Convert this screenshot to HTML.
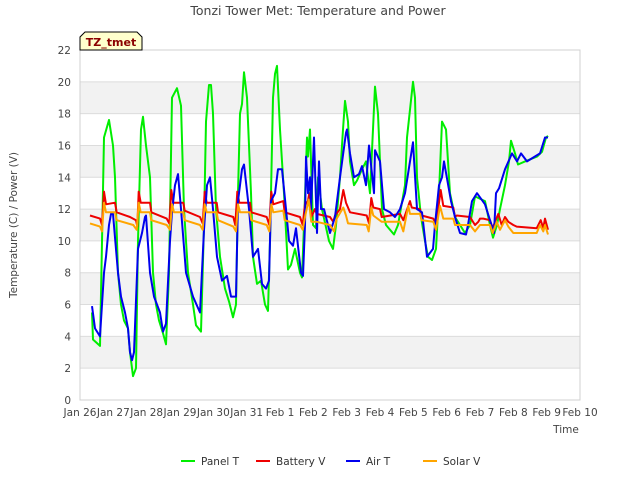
<!DOCTYPE html>
<html><head><meta charset="utf-8"><style>
body{margin:0;background:#fff;}
svg text{font-family:"DejaVu Sans","Liberation Sans",sans-serif;}
</style></head><body>
<svg id="chart" width="640" height="480" viewBox="0 0 640 480" xmlns="http://www.w3.org/2000/svg">
<rect width="640" height="480" fill="#fff"/>
<g id="bands"></g><g id="grid"></g><g id="series"></g><g id="axes"></g>
<text x="318" y="15" text-anchor="middle" font-size="12.5" fill="#444">Tonzi Tower Met: Temperature and Power</text>
<text x="17" y="225" text-anchor="middle" font-size="10.5" fill="#444" transform="rotate(-90 17 225)">Temperature (C) / Power (V)</text>
<text x="566" y="433" text-anchor="middle" font-size="10.5" fill="#444">Time</text>
<g>
<path d="M80,50 L80,37 L85,32 L137,32 L142,37 L142,50 Z" fill="#ffffcc" stroke="#000" stroke-width="1"/>
<text x="111" y="46" text-anchor="middle" font-size="11" font-weight="bold" fill="#8b0000">TZ_tmet</text>
</g>
<g id="legend"></g>
</svg>
<script>
const yTicks=[0,2,4,6,8,10,12,14,16,18,20,22];
const xTickLabels=["Jan 26","Jan 27","Jan 28","Jan 29","Jan 30","Jan 31","Feb 1","Feb 2","Feb 3","Feb 4","Feb 5","Feb 6","Feb 7","Feb 8","Feb 9","Feb 10"];
const seriesNames=["Panel T","Battery V","Air T","Solar V"];
const seriesColors=["#00ee00","#ee0000","#0000ee","#ffa500"];
const panelT_t=[.36,.39,.6,.72,.87,.99,1.05,1.14,1.23,1.32,1.44,1.5,1.59,1.68,1.74,1.83,1.89,1.98,2.1,2.19,2.28,2.37,2.49,2.58,2.67,2.76,2.91,3.03,3.12,3.24,3.39,3.48,3.63,3.72,3.78,3.87,3.93,3.99,4.08,4.2,4.35,4.47,4.59,4.68,4.74,4.8,4.86,4.92,5.01,5.13,5.19,5.31,5.43,5.55,5.64,5.7,5.79,5.85,5.91,6.0,6.12,6.24,6.33,6.45,6.6,6.66,6.72,6.81,6.84,6.9,6.99,7.08,7.14,7.26,7.47,7.59,7.68,7.8,7.89,7.95,8.04,8.1,8.22,8.31,8.46,8.58,8.7,8.85,8.94,9.06,9.18,9.42,9.54,9.75,9.81,9.99,10.05,10.11,10.23,10.35,10.44,10.56,10.68,10.77,10.86,10.98,11.1,11.25,11.4,11.55,11.7,11.85,12.15,12.3,12.39,12.51,12.6,12.75,12.87,12.93,13.05,13.14,13.35,13.71,13.86,13.98,14.04];
const panelT_v=[5.5,3.8,3.4,16.5,17.6,16,14,8,6,5,4.5,3,1.5,2,10,17,17.8,16,14,8,6,5,4.2,3.5,8,19,19.6,18.5,12,8,6,4.7,4.3,11,17.5,19.8,19.8,18,12,9,7,6.2,5.2,6,13,18,18.6,20.6,19,13,9,7.3,7.5,6,5.6,10,19,20.5,21,17,13,8.2,8.5,9.5,8,7.7,11,16.5,15.3,17,11,10.8,14,12,10,9.5,11,14,17,18.8,17.5,15,13.5,13.8,14.5,15,13,19.7,18,12,11,10.4,11,13.5,16.5,20,19,14,11.5,10,9,8.8,9.5,13,17.5,17,13,11.5,11,10.5,11,12.8,12.5,11,10.2,11,12,13.5,15,16.3,15.5,14.8,15,15.3,15.6,16.5,16.6];
const airT_t=[.36,.45,.6,.72,.78,.87,.93,.99,1.14,1.23,1.35,1.44,1.5,1.56,1.62,1.74,1.86,1.95,1.98,2.1,2.22,2.4,2.49,2.58,2.7,2.76,2.85,2.94,3.03,3.18,3.39,3.6,3.72,3.81,3.9,3.99,4.11,4.26,4.41,4.53,4.68,4.74,4.86,4.92,5.07,5.19,5.34,5.46,5.58,5.67,5.73,5.85,5.94,6.06,6.18,6.27,6.39,6.48,6.63,6.69,6.75,6.78,6.84,6.9,6.93,7.02,7.11,7.17,7.23,7.32,7.5,7.65,7.8,7.98,8.01,8.1,8.22,8.37,8.46,8.58,8.67,8.82,8.85,9.0,9.12,9.3,9.45,9.6,9.75,9.99,10.11,10.26,10.41,10.59,10.65,10.77,10.86,10.92,11.13,11.25,11.4,11.58,11.64,11.76,11.91,12.15,12.42,12.48,12.57,12.75,12.96,13.11,13.23,13.41,13.8,13.95,14.04];
const airT_v=[5.9,4.5,4,8,9,11,11.7,11.7,8,6.5,5.5,4.5,3,2.5,3,9.5,10.5,11.5,11.6,8,6.5,5.5,4.3,4.8,10,11.8,13.5,14.2,12,8,6.5,5.5,10.7,13.5,14,12,9,7.5,7.8,6.5,6.5,12.5,14.5,14.8,12,9,9.5,7.3,7,7.5,12.5,13,14.5,14.5,12,10,9.7,10.8,8,7.8,11,15.3,13,14,12,16.5,10.5,15,12,12,10.5,11.5,14,16.8,17,15.5,14,14.2,14.7,13.5,16,13,15.7,15,12,11.8,11.5,12,13,16.2,12,11.8,9,9.5,11,13.5,14,15,12.5,11.5,10.5,10.4,11,12.5,13,12.3,10.5,13,13.3,14.5,15.5,15,15.5,15,15.5,16.5,16.5];
const batt_t=[.3,.6,.66,.72,.78,1.05,1.1,1.5,1.68,1.72,1.76,1.82,2.1,2.14,2.6,2.68,2.74,2.8,3.1,3.14,3.6,3.68,3.74,3.8,4.1,4.14,4.6,4.66,4.72,4.78,5.1,5.14,5.6,5.68,5.74,5.8,6.1,6.14,6.6,6.68,6.76,6.82,6.88,6.94,7.05,7.1,7.5,7.6,7.65,7.8,7.9,7.98,8.1,8.6,8.67,8.74,8.8,9.0,9.05,9.6,9.7,9.9,9.95,10.2,10.25,10.6,10.68,10.82,10.9,11.2,11.25,11.3,11.7,11.85,11.95,12.0,12.1,12.3,12.38,12.45,12.55,12.65,12.75,12.85,13.0,13.1,13.7,13.82,13.9,13.95,14.04];
const batt_v=[11.6,11.4,11.0,13.1,12.3,12.4,11.8,11.5,11.3,10.9,13.1,12.4,12.4,11.8,11.4,11.1,13.2,12.4,12.4,11.9,11.5,11.1,13.1,12.4,12.4,11.8,11.5,11.0,13.1,12.4,12.4,11.8,11.5,11.0,13.1,12.3,12.5,11.8,11.5,11.0,12.5,12.3,13,11.5,12,11.7,11.5,11.2,11.6,12,13.2,12.4,11.8,11.6,11.1,12.7,12.1,12,11.5,11.7,11.3,12.5,12.1,12,11.6,11.4,11.0,13.2,12.2,12.1,11.5,11.6,11.5,11.0,11.2,11.4,11.4,11.3,10.8,11.2,11.7,11.0,11.5,11.2,11.0,10.9,10.8,11.3,10.8,11.4,10.7];
const solar_t=[.3,.6,.66,.72,.78,1.05,1.1,1.6,1.7,1.76,1.82,2.1,2.14,2.6,2.7,2.76,2.82,3.1,3.14,3.6,3.68,3.74,3.8,4.1,4.14,4.6,4.68,4.74,4.8,5.1,5.14,5.6,5.68,5.74,5.8,6.1,6.14,6.6,6.68,6.76,6.86,6.94,7.1,7.5,7.62,7.7,7.9,7.98,8.04,8.6,8.66,8.74,8.8,9.05,9.6,9.7,9.85,9.9,10.2,10.25,10.6,10.68,10.8,10.9,11.2,11.25,11.7,11.85,12.0,12.3,12.38,12.5,12.6,12.75,12.85,13.0,13.7,13.8,13.9,13.95,14.04];
const solar_v=[11.1,10.9,10.6,12.4,11.8,11.8,11.3,11.0,10.7,12.4,11.8,11.8,11.3,11.0,10.7,12.3,11.8,11.8,11.3,11.0,10.7,12.3,11.8,11.8,11.3,10.9,10.6,12.3,11.8,11.8,11.3,11.0,10.6,12.3,11.8,11.9,11.3,11.0,10.7,11.6,12.6,11.2,11.2,11.0,10.6,11.4,12.1,11.6,11.1,11.0,10.6,12.1,11.6,11.2,11.2,10.6,12.2,11.7,11.7,11.3,11.2,10.7,12.2,11.4,11.4,11.0,11.0,10.6,11.0,11.0,10.5,11.2,10.7,11.3,10.9,10.5,10.5,11.0,10.6,11.0,10.4];

const NS="http://www.w3.org/2000/svg";
const L=80,R=580,T=50,B=400,yMax=22,xDays=15;
const xs=t=>L+(R-L)*t/xDays;
const ys=v=>B-(B-T)*v/yMax;
function mk(tag,attrs,parent){const e=document.createElementNS(NS,tag);for(const k in attrs)e.setAttribute(k,attrs[k]);parent.appendChild(e);return e;}
const bands=document.getElementById('bands'),grid=document.getElementById('grid'),axes=document.getElementById('axes'),ser=document.getElementById('series'),leg=document.getElementById('legend');
for(let i=0;i<yTicks.length-1;i++){
  if(i%2===1){const r=mk('rect',{x:L,y:ys(yTicks[i+1]),width:R-L,height:ys(yTicks[i])-ys(yTicks[i+1]),fill:'#f2f2f2'},bands);
  
  }
}
yTicks.forEach(v=>{
  const g=mk('line',{x1:L,x2:R,y1:ys(v),y2:ys(v),stroke:'#dcdcdc','stroke-width':1},grid);
  
  
  const t=mk('text',{x:L-9,y:ys(v)+4,'text-anchor':'end','font-size':10.5,fill:'#444'},axes);t.textContent=v;
  
  
});
xTickLabels.forEach((lab,i)=>{
  const t=mk('text',{x:xs(i),y:416,'text-anchor':'middle','font-size':10.5,fill:'#444'},axes);t.textContent=lab;
  
  
});
const fr=mk('rect',{x:L,y:T,width:R-L,height:B-T,fill:'none',stroke:'#d0d0d0','stroke-width':1},axes);


const data=[[panelT_t,panelT_v],[batt_t,batt_v],[airT_t,airT_v],[solar_t,solar_v]];
const lineNames=['panel-t-line','battery-v-line','air-t-line','solar-v-line'];
data.forEach((d,k)=>{
  const pts=d[0].map((t,i)=>xs(t).toFixed(1)+','+ys(d[1][i]).toFixed(1)).join(' ');
  const p=mk('polyline',{points:pts,fill:'none',stroke:seriesColors[k],'stroke-width':2,'stroke-linejoin':'round'},ser);
  
  
});
const legX=[181,256,346,423];
seriesNames.forEach((n,k)=>{
  const g=mk('g',{},leg);
  
  
  mk('line',{x1:legX[k],x2:legX[k]+14,y1:461,y2:461,stroke:seriesColors[k],'stroke-width':2},g);
  const t=mk('text',{x:legX[k]+20,y:465,'font-size':10.5,fill:'#333'},g);t.textContent=n;
});
</script>
</body></html>
